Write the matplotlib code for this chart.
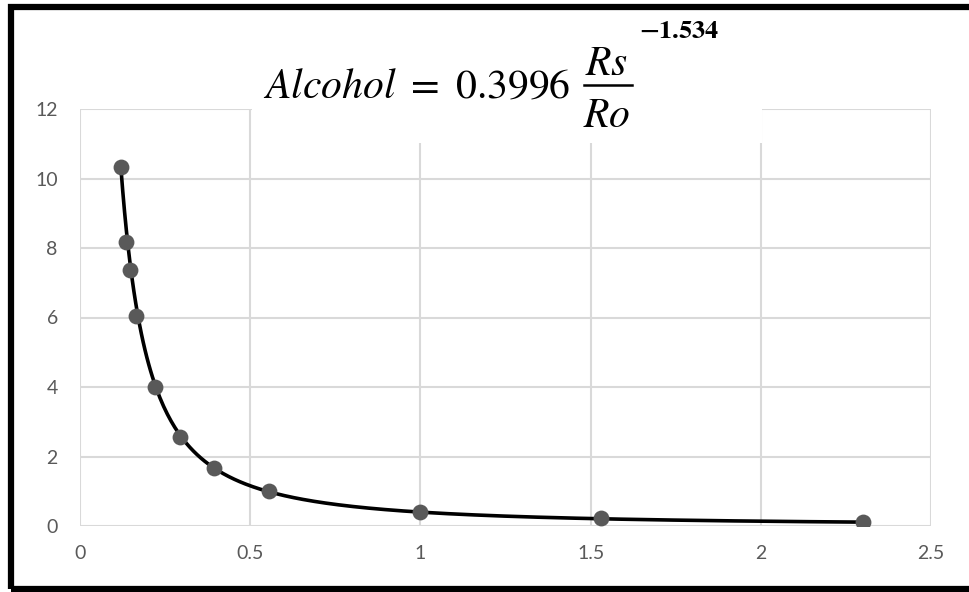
import numpy as np
import matplotlib
matplotlib.use("Agg")
import matplotlib.pyplot as plt
from matplotlib.patches import Rectangle
from matplotlib.lines import Line2D

# Rs/Ro readings and alcohol concentration
rs_ro = [0.12, 0.135, 0.147, 0.165, 0.22, 0.295, 0.395, 0.555, 1.0, 1.53, 2.3]
alcohol = [10.33, 8.17, 7.37, 6.04, 4.0, 2.56, 1.67, 1.0, 0.40, 0.22, 0.12]

# power trendline coefficients shown on the chart
coef_a = 0.3996
coef_b = -1.534

x_ticks = [0, 0.5, 1, 1.5, 2, 2.5]
x_labels = ["0", "0.5", "1", "1.5", "2", "2.5"]
y_ticks = [0, 2, 4, 6, 8, 10, 12]

plt.rcParams['font.family'] = ['Lato', 'DejaVu Sans']
plt.rcParams['mathtext.fontset'] = 'stix'

W, H = 969, 592
fig = plt.figure(figsize=(W / 100, H / 100), dpi=100)
ax = fig.add_axes([80 / W, 66 / H, 851 / W, 417 / H])

# trendline
xs = np.linspace(min(rs_ro), max(rs_ro), 400)
ax.plot(xs, coef_a * xs ** coef_b, color="black", lw=2.6, zorder=3)

# data points
ax.scatter(rs_ro, alcohol, s=130, color="#595959", zorder=4, linewidths=0)

ax.set_xlim(0, 2.5)
ax.set_ylim(0, 12)
ax.set_xticks(x_ticks)
ax.set_xticklabels(x_labels)
ax.set_yticks(y_ticks)
ax.grid(True, color="#d9d9d9", lw=1.5)
ax.set_axisbelow(True)
for s in ax.spines.values():
    s.set_visible(False)
ax.tick_params(length=0, colors="#595959", labelsize=14)
ax.tick_params(axis="x", pad=14)
ax.tick_params(axis="y", pad=16)


def fx(px):
    return px / W


def fy(py):
    return (H - py) / H


# white box behind the equation, hides part of the grid
fig.patches.append(Rectangle((fx(252), fy(143)), 510 / W, 131 / H,
                             transform=fig.transFigure, facecolor="white",
                             edgecolor="none", zorder=5))

# equation drawn in pieces
fig.text(fx(263), fy(98), r"$Alcohol\ =\ 0.3996$", fontsize=30,
         ha="left", va="baseline", zorder=6)
fig.text(fx(607), fy(75), r"$Rs$", fontsize=30, ha="center", va="baseline", zorder=6)
fig.text(fx(607), fy(127), r"$Ro$", fontsize=30, ha="center", va="baseline", zorder=6)
fig.lines.append(Line2D([fx(584), fx(632)], [fy(85), fy(85)], transform=fig.transFigure,
                        color="black", lw=1.8, zorder=6))
fig.text(fx(639), fy(38), r"$\mathbf{-1.534}$", fontsize=19, ha="left", va="baseline",
         zorder=6)

# outer black frame
fig.patches.append(Rectangle((11 / W, 3 / H), 1.0, 582 / H,
                             transform=fig.transFigure, facecolor="none",
                             edgecolor="black", lw=4.5, zorder=10))

fig.savefig("out.png", dpi=100)
